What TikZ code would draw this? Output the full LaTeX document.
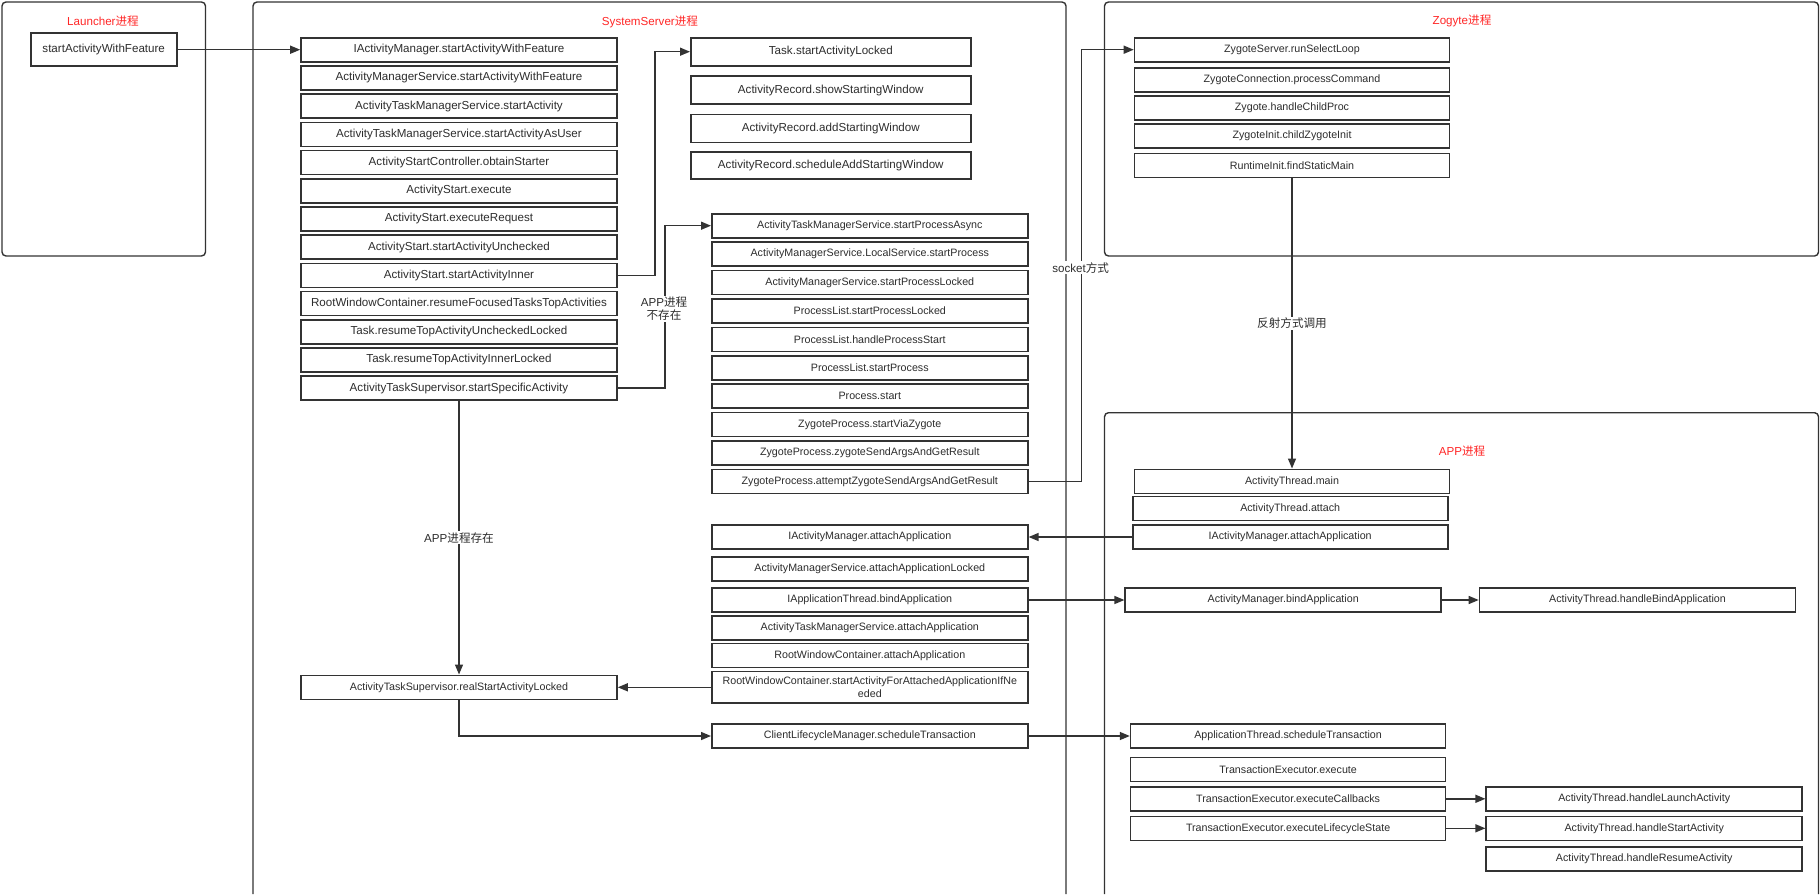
\documentclass[tikz,border=0pt]{standalone}
\usepackage{xcolor}
\usepackage{fontspec}
\setmainfont{Liberation Sans}
\newfontfamily\cjk{Noto Sans CJK SC}
\usetikzlibrary{arrows.meta}
\definecolor{linegray}{RGB}{51,51,51}
\definecolor{textgray}{RGB}{45,45,45}
\definecolor{titlered}{RGB}{255,38,38}
\tikzset{
  callbox/.style={draw=linegray, line width=1.6pt, fill=white, inner sep=0pt,
    minimum width=316pt, minimum height=24pt, text=textgray,
    font=\fontsize{11.6}{13}\selectfont},
  callsmall/.style={callbox, font=\fontsize{10.7}{12.5}\selectfont},
  procframe/.style={draw=linegray, line width=1.4pt, rounded corners=4pt},
  proctitle/.style={text=titlered, font=\fontsize{11.6}{13}\selectfont},
  flow/.style={draw=linegray, line width=1.4pt, -{Triangle[length=10pt,width=8pt]}},
  tag/.style={fill=white, text=textgray, inner sep=1pt, align=center,
    font=\fontsize{11.6}{13}\selectfont},
}

\begin{document}
\begin{tikzpicture}[x=1pt, y=-1pt]
        \useasboundingbox (0,0) rectangle (1820,894);

        % process frames
        \draw[procframe] (2,2) rectangle (205.5,256);
        \draw[procframe] (253,894) -- (253,2) -- (1066,2) -- (1066,894);
        \draw[procframe] (1104.5,2) rectangle (1818.5,256);
        \draw[procframe] (1104.5,894) -- (1104.5,412.7) -- (1818.5,412.7) -- (1818.5,894);

        \node[proctitle] (launchertitle) at (103,21) {Launcher{\cjk 进程}};
        \node[proctitle] (systemtitle) at (650,21.7) {SystemServer{\cjk 进程}};
        \node[proctitle] (zygotetitle) at (1462,21) {Zogyte{\cjk 进程}};
        \node[proctitle] (apptitle) at (1462,451) {APP{\cjk 进程}};

        % Launcher
        \node[callbox, minimum width=146pt, minimum height=33pt] (lstart) at (103.7,49.7) {startActivityWithFeature};

        % SystemServer: start chain
        \node[callbox] (ss0) at (459,49.7) {IActivityManager.startActivityWithFeature};
        \node[callbox] (ss1) at (459,77.9) {ActivityManagerService.startActivityWithFeature};
        \node[callbox] (ss2) at (459,106.1) {ActivityTaskManagerService.startActivity};
        \node[callbox] (ss3) at (459,134.3) {ActivityTaskManagerService.startActivityAsUser};
        \node[callbox] (ss4) at (459,162.5) {ActivityStartController.obtainStarter};
        \node[callbox] (ss5) at (459,190.7) {ActivityStart.execute};
        \node[callbox] (ss6) at (459,218.9) {ActivityStart.executeRequest};
        \node[callbox] (ss7) at (459,247.1) {ActivityStart.startActivityUnchecked};
        \node[callbox] (ss8) at (459,275.3) {ActivityStart.startActivityInner};
        \node[callbox] (ss9) at (459,303.5) {RootWindowContainer.resumeFocusedTasksTopActivities};
        \node[callbox] (ss10) at (459,331.7) {Task.resumeTopActivityUncheckedLocked};
        \node[callbox] (ss11) at (459,359.9) {Task.resumeTopActivityInnerLocked};
        \node[callbox] (ss12) at (459,388.1) {ActivityTaskSupervisor.startSpecificActivity};

        % SystemServer: starting window
        \node[callbox, minimum width=280pt, minimum height=28pt] (win0) at (830.8,51.7) {Task.startActivityLocked};
        \node[callbox, minimum width=280pt, minimum height=28pt] (win1) at (830.8,90) {ActivityRecord.showStartingWindow};
        \node[callbox, minimum width=280pt, minimum height=28pt] (win2) at (830.8,128.5) {ActivityRecord.addStartingWindow};
        \node[callbox, minimum width=280pt, minimum height=27pt] (win3) at (830.8,165.5) {ActivityRecord.scheduleAddStartingWindow};

        % SystemServer: process start
        \node[callsmall] (pr0) at (869.8,225.7) {ActivityTaskManagerService.startProcessAsync};
        \node[callsmall] (pr1) at (869.8,254.1) {ActivityManagerService.LocalService.startProcess};
        \node[callsmall] (pr2) at (869.8,282.5) {ActivityManagerService.startProcessLocked};
        \node[callsmall] (pr3) at (869.8,310.9) {ProcessList.startProcessLocked};
        \node[callsmall] (pr4) at (869.8,339.3) {ProcessList.handleProcessStart};
        \node[callsmall] (pr5) at (869.8,367.7) {ProcessList.startProcess};
        \node[callsmall] (pr6) at (869.8,396.1) {Process.start};
        \node[callsmall] (pr7) at (869.8,424.5) {ZygoteProcess.startViaZygote};
        \node[callsmall] (pr8) at (869.8,452.9) {ZygoteProcess.zygoteSendArgsAndGetResult};
        \node[callsmall] (pr9) at (869.8,481.3) {ZygoteProcess.attemptZygoteSendArgsAndGetResult};

        % SystemServer: attach
        \node[callsmall] (at0) at (869.8,537) {IActivityManager.attachApplication};
        \node[callsmall] (at1) at (869.8,568.7) {ActivityManagerService.attachApplicationLocked};
        \node[callsmall] (at2) at (869.8,600) {IApplicationThread.bindApplication};
        \node[callsmall] (at3) at (869.8,627.8) {ActivityTaskManagerService.attachApplication};
        \node[callsmall] (at4) at (869.8,655.5) {RootWindowContainer.attachApplication};
        \node[callsmall, minimum height=31.5pt, align=center] (at5) at (869.8,687.3) {RootWindowContainer.startActivityForAttachedApplicationIfNe\\eded};
        \node[callsmall] (at6) at (869.8,736) {ClientLifecycleManager.scheduleTransaction};
        \node[callsmall] (realstart) at (459,687.3) {ActivityTaskSupervisor.realStartActivityLocked};

        % Zygote
        \node[callsmall, minimum width=315pt] (zy0) at (1292,49.7) {ZygoteServer.runSelectLoop};
        \node[callsmall, minimum width=315pt] (zy1) at (1292,79.8) {ZygoteConnection.processCommand};
        \node[callsmall, minimum width=315pt] (zy2) at (1292,107.7) {Zygote.handleChildProc};
        \node[callsmall, minimum width=315pt] (zy3) at (1292,135.7) {ZygoteInit.childZygoteInit};
        \node[callsmall, minimum width=315pt] (zy4) at (1292,165.3) {RuntimeInit.findStaticMain};

        % APP
        \node[callsmall, minimum width=315pt] (atmain) at (1292,481.3) {ActivityThread.main};
        \node[callsmall, minimum width=315pt] (atattach) at (1290.2,508.3) {ActivityThread.attach};
        \node[callsmall, minimum width=315pt] (apam) at (1290.2,537) {IActivityManager.attachApplication};
        \node[callsmall] (ambind) at (1283.2,600) {ActivityManager.bindApplication};
        \node[callsmall] (hbind) at (1637.5,600) {ActivityThread.handleBindApplication};
        \node[callsmall, minimum width=315pt] (ats) at (1288.1,736) {ApplicationThread.scheduleTransaction};
        \node[callsmall, minimum width=315pt] (teexec) at (1288.1,769.3) {TransactionExecutor.execute};
        \node[callsmall, minimum width=315pt] (tecb) at (1288.1,798.8) {TransactionExecutor.executeCallbacks};
        \node[callsmall, minimum width=315pt] (tels) at (1288.1,828.3) {TransactionExecutor.executeLifecycleState};
        \node[callsmall] (hlaunch) at (1644.2,798.8) {ActivityThread.handleLaunchActivity};
        \node[callsmall] (hstart) at (1644.2,828.3) {ActivityThread.handleStartActivity};
        \node[callsmall] (hresume) at (1644.2,858.7) {ActivityThread.handleResumeActivity};

        % connectors
        \draw[flow] (lstart.east) -- (ss0.west);
        \draw[flow] (ss8.east) -- ++(37,0) |- (win0.west);
        \draw[flow] (ss12.east) -- ++(47,0) |- (pr0.west);
        \draw[flow] (pr9.east) -- ++(53,0) |- (zy0.west);
        \draw[flow] (zy4.south) -- (atmain.north);
        \draw[flow] (apam.west) -- (at0.east);
        \draw[flow] (ss12.south) -- (realstart.north);
        \draw[flow] (at5.west) -- (realstart.east);
        \draw[flow] (realstart.south) |- (at6.west);
        \draw[flow] (at6.east) -- (ats.west);
        \draw[flow] (at2.east) -- (ambind.west);
        \draw[flow] (ambind.east) -- (hbind.west);
        \draw[flow] (tecb.east) -- (hlaunch.west);
        \draw[flow] (tels.east) -- (hstart.west);

        \node[tag] (noapp) at (664,309) {APP{\cjk 进程}\\{\cjk 不存在}};
        \node[tag] (socket) at (1080.7,267.7) {socket{\cjk 方式}};
        \node[tag] (reflect) at (1292,323.3) {{\cjk 反射方式调用}};
        \node[tag] (hasapp) at (459,537.7) {APP{\cjk 进程存在}};
    \end{tikzpicture}
\end{document}
